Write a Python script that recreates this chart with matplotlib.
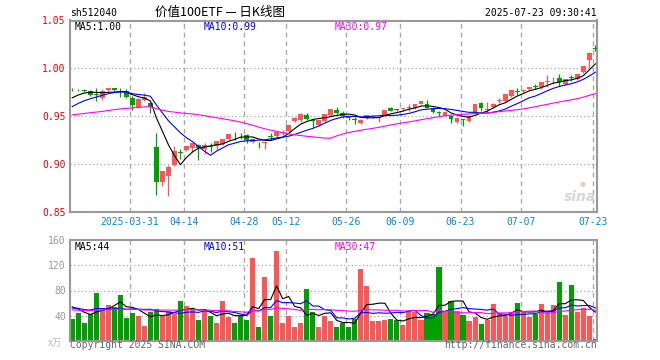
import matplotlib
matplotlib.use("Agg")
import matplotlib.pyplot as plt
import numpy as np
import pandas as pd

plt.rcParams['font.family'] = ['DejaVu Sans Mono', 'Noto Sans CJK SC']

# 日K 2025-03-17 .. 2025-07-23, 88 trading days
opens = [0.9785, 0.9775, 0.9765, 0.976, 0.9725, 0.969, 0.977, 0.9795, 0.9755, 0.976,
         0.969, 0.960, 0.967, 0.964, 0.918, 0.881, 0.888, 0.899, 0.913, 0.915,
         0.917, 0.920, 0.916, 0.9185, 0.919, 0.921, 0.926, 0.9305, 0.9305, 0.930,
         0.923, 0.9208, 0.9225, 0.929, 0.929, 0.933, 0.935, 0.945, 0.946, 0.951,
         0.9455, 0.941, 0.945, 0.951, 0.957, 0.953, 0.9485, 0.947, 0.9425, 0.948,
         0.9495, 0.9485, 0.950, 0.959, 0.9575, 0.9575, 0.9588, 0.959, 0.963, 0.963,
         0.959, 0.954, 0.9505, 0.950, 0.944, 0.947, 0.945, 0.954, 0.964, 0.957,
         0.960, 0.966, 0.966, 0.971, 0.9755, 0.976, 0.978, 0.9815, 0.981, 0.9855,
         0.9885, 0.990, 0.984, 0.9905, 0.989, 0.996, 1.0085, 1.021]
highs = [0.980, 0.9785, 0.978, 0.977, 0.980, 0.978, 0.980, 0.980, 0.979, 0.978,
         0.971, 0.969, 0.974, 0.965, 0.933, 0.893, 0.899, 0.919, 0.916, 0.919,
         0.922, 0.921, 0.922, 0.922, 0.924, 0.926, 0.931, 0.934, 0.933, 0.931,
         0.927, 0.923, 0.924, 0.933, 0.935, 0.936, 0.941, 0.949, 0.953, 0.953,
         0.947, 0.946, 0.952, 0.958, 0.960, 0.955, 0.950, 0.949, 0.947, 0.951,
         0.9505, 0.9495, 0.957, 0.9595, 0.958, 0.959, 0.963, 0.963, 0.966, 0.967,
         0.960, 0.9555, 0.955, 0.951, 0.948, 0.9475, 0.950, 0.963, 0.965, 0.965,
         0.964, 0.969, 0.973, 0.977, 0.979, 0.978, 0.981, 0.984, 0.986, 0.993,
         0.991, 0.994, 0.989, 0.993, 0.994, 1.003, 1.017, 1.024]
lows = [0.9765, 0.976, 0.975, 0.971, 0.9655, 0.967, 0.976, 0.976, 0.970, 0.969,
        0.957, 0.959, 0.966, 0.953, 0.868, 0.877, 0.867, 0.898, 0.905, 0.914,
        0.913, 0.9045, 0.911, 0.913, 0.915, 0.920, 0.925, 0.9255, 0.9265, 0.922,
        0.922, 0.917, 0.916, 0.925, 0.928, 0.930, 0.934, 0.944, 0.9435, 0.946,
        0.939, 0.940, 0.944, 0.950, 0.952, 0.948, 0.946, 0.942, 0.942, 0.947,
        0.948, 0.944, 0.9495, 0.955, 0.956, 0.956, 0.955, 0.958, 0.9625, 0.9585,
        0.953, 0.9505, 0.950, 0.943, 0.943, 0.940, 0.944, 0.953, 0.956, 0.954,
        0.959, 0.964, 0.965, 0.970, 0.972, 0.974, 0.977, 0.978, 0.978, 0.981,
        0.984, 0.982, 0.983, 0.987, 0.988, 0.995, 1.000, 1.018]
closes = [0.978, 0.977, 0.976, 0.972, 0.972, 0.976, 0.979, 0.977, 0.975, 0.970,
          0.962, 0.968, 0.970, 0.960, 0.881, 0.893, 0.897, 0.914, 0.912, 0.9185,
          0.922, 0.917, 0.920, 0.918, 0.924, 0.926, 0.931, 0.930, 0.930, 0.925,
          0.926, 0.9205, 0.923, 0.9285, 0.934, 0.934, 0.941, 0.948, 0.952, 0.947,
          0.945, 0.946, 0.952, 0.958, 0.9535, 0.950, 0.948, 0.9465, 0.9465, 0.951,
          0.950, 0.949, 0.957, 0.956, 0.957, 0.958, 0.959, 0.963, 0.966, 0.959,
          0.954, 0.9535, 0.954, 0.947, 0.948, 0.9465, 0.950, 0.963, 0.959, 0.958,
          0.963, 0.967, 0.973, 0.977, 0.975, 0.9765, 0.981, 0.981, 0.986, 0.986,
          0.989, 0.986, 0.989, 0.990, 0.994, 1.003, 1.016, 1.0205]
volumes = [34.7, 44.8, 28.8, 42.7, 76.8, 49.6, 57, 53.3, 73.6, 36.8,
           44.8, 40, 24, 45.3, 50.7, 40, 47.5, 42.1, 63.5, 56,
           49, 33, 48, 40, 28.8, 63.5, 38.4, 28.8, 40, 33,
           131, 22.4, 100.8, 40, 142.4, 28.8, 40, 22.4, 28, 83,
           45, 22.4, 40, 31.5, 22.4, 29, 22.4, 34, 115, 87.5,
           31.5, 31.5, 33, 34.7, 33, 25, 48, 45, 33, 43.7,
           42, 118, 46, 63.5, 47.5, 41, 31.5, 38, 26.7, 33,
           58.7, 42, 40, 45, 60, 45, 38, 42, 58.7, 43.7,
           57, 94, 41, 89, 45, 51.7, 40, 2.7]

# days before the window, only used so the moving averages start where they do
prev_closes = [0.955, 0.953, 0.950, 0.952, 0.954, 0.951, 0.949, 0.952, 0.953, 0.950,
               0.951, 0.953, 0.953, 0.945, 0.940, 0.936, 0.935, 0.937, 0.936, 0.937,
               0.944, 0.948, 0.951, 0.955, 0.957, 0.962, 0.966, 0.968, 0.972]
prev_volumes = [52, 45, 48, 50, 44, 47, 49, 46, 51, 48,
                45, 47, 50, 46, 48, 44, 47, 49, 46, 47,
                48, 52, 47, 53, 50, 62, 55, 60, 58]

date_pos = [10, 19, 29, 36, 46, 55, 65, 75, 87]
date_labels = ["2025-03-31", "04-14", "04-28", "05-12", "05-26", "06-09", "06-23", "07-07", "07-23"]
price_ticks = [0.85, 0.90, 0.95, 1.00, 1.05]
vol_ticks = [40, 80, 120, 160]

RED = '#ff5555'
GREEN = '#00a000'
GRID = '#aaaaaa'
BORDER = '#999999'

W, H = 660, 360


def ma(prev, vals, n):
    s = pd.Series(prev + vals).rolling(n).mean()
    return s.iloc[len(prev):].values


fig = plt.figure(figsize=(W / 100, H / 100), dpi=100)
ax1 = fig.add_axes([70 / W, 1 - 212 / H, 527 / W, 191.5 / H])
ax2 = fig.add_axes([70 / W, 1 - 340.7 / H, 527 / W, 100.4 / H])

x = np.arange(len(closes))
o = np.array(opens)
c = np.array(closes)
col = np.where(c > o, RED, GREEN)

for ax in (ax1, ax2):
    ax.set_xlim(-0.37, 87.28)
    for p in date_pos:
        ax.axvline(p - 0.42, color=GRID, lw=1, ls=(0, (3.5, 2.8)), zorder=0)
    for s in ax.spines.values():
        s.set_color(BORDER)
        s.set_linewidth(1.5)
    ax.tick_params(length=0)

# candles
ax1.set_ylim(0.85, 1.05)
for v in [0.90, 0.95, 1.00]:
    ax1.axhline(v, color=GRID, lw=0.9, ls=(0, (1, 2)), zorder=0)
ax1.vlines(x, lows, highs, colors=col, lw=0.9, zorder=2)
body = np.maximum(np.abs(c - o), 0.0009)
ax1.bar(x, body, bottom=np.minimum(o, c), width=0.8, color=col, lw=0, zorder=3)
ax1.plot(x, ma(prev_closes, closes, 5), color='black', lw=0.8, zorder=4)
ax1.plot(x, ma(prev_closes, closes, 10), color='#0000ff', lw=0.8, zorder=4)
ax1.plot(x, ma(prev_closes, closes, 30), color='#ff00ff', lw=0.8, zorder=4)

ax1.set_yticks(price_ticks)
ax1.set_yticklabels(['%.2f' % t for t in price_ticks], color='#ee0000', fontsize=7)
ax1.tick_params(axis='y', pad=3)
ax1.set_xticks(np.array(date_pos) - 0.42)
ax1.set_xticklabels(date_labels, color='#0a84d8', fontsize=7)
ax1.tick_params(axis='x', pad=3.5)

# volume
ax2.set_ylim(0, 160)
for v in [40, 80, 120]:
    ax2.axhline(v, color=GRID, lw=0.9, ls=(0, (1, 2)), zorder=0)
ax2.bar(x, volumes, width=0.85, color=col, lw=0, zorder=2)
ax2.plot(x, ma(prev_volumes, volumes, 5), color='black', lw=0.8, zorder=4)
ax2.plot(x, ma(prev_volumes, volumes, 10), color='#0000ff', lw=0.8, zorder=4)
ax2.plot(x, ma(prev_volumes, volumes, 30), color='#ff00ff', lw=0.8, zorder=4)
ax2.set_yticks(vol_ticks)
ax2.set_yticklabels([str(t) for t in vol_ticks], color='#999999', fontsize=7)
ax2.tick_params(axis='y', pad=3)
ax2.set_xticks([])


def ftext(px, py, s, **kw):
    fig.text(px / W, 1 - py / H, s, va='center', **kw)


ftext(70, 13, "sh512040", fontsize=7, color='black')
ftext(220, 12.5, "价值100ETF — 日K线图", fontsize=9, ha='center',
      family=['Noto Sans CJK SC', 'DejaVu Sans'])
ftext(597, 13, "2025-07-23 09:30:41", fontsize=7, ha='right')

ftext(75, 26.5, "MA5:1.00", fontsize=7, color='black')
ftext(204, 26.5, "MA10:0.99", fontsize=7, color='#0000ff')
ftext(335, 26.5, "MA30:0.97", fontsize=7, color='#ff00ff')

ftext(75, 247, "MA5:44", fontsize=7, color='black')
ftext(204, 247, "MA10:51", fontsize=7, color='#0000ff')
ftext(335, 247, "MA30:47", fontsize=7, color='#ff00ff')

ftext(48, 343, "x万", fontsize=7, color='#bbbbbb', style='italic',
      family=['Noto Sans CJK SC', 'DejaVu Sans'])
ftext(70, 345.5, "Copyright 2025 SINA.COM", fontsize=7, color='#666666')
ftext(597, 345.5, "http://finance.sina.com.cn", fontsize=7, color='#666666', ha='right')

# sina watermark
ftext(580, 197, "sina", fontsize=10, color='#d6d6d6', ha='center',
      weight='bold', style='italic', family='DejaVu Sans')
ftext(583, 184, "●", fontsize=5, color='#f3c8c8', ha='center', family='DejaVu Sans')

fig.savefig("out.png", dpi=100)
